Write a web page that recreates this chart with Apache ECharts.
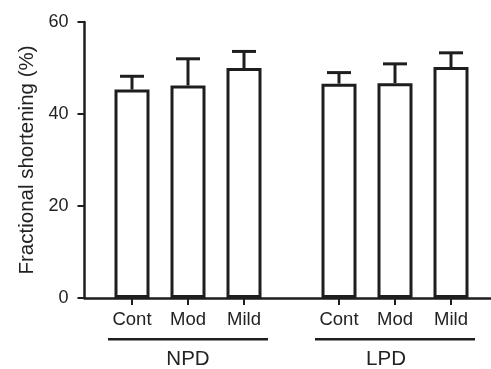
<!DOCTYPE html>
<html>
<head>
<meta charset="utf-8">
<script src="https://cdn.jsdelivr.net/npm/echarts@6/dist/echarts.min.js"></script>
<style>
  html, body { margin: 0; padding: 0; background: #fff; }
  #chart { width: 491px; height: 369px; }
</style>
</head>
<body>
<div id="chart"></div>
<script>
// groups on the x axis, one bar per level inside each group
const groups = ['NPD', 'LPD'];
const levels = ['Cont', 'Mod', 'Mild'];
// mean fractional shortening (%) per level, [NPD, LPD]
const contMean = [45.3, 46.6];
const modMean = [46.2, 46.7];
const mildMean = [50.0, 50.2];
// upper error (SD) per level, [NPD, LPD]
const contErr = [2.9, 2.4];
const modErr = [5.8, 4.2];
const mildErr = [3.6, 3.1];
const yTicks = [0, 20, 40, 60];

const means = [contMean, modMean, mildMean];
const errs = [contErr, modErr, mildErr];

const ink = '#1e1e1e';
const font = 'Liberation Sans';
const BAR_W = 35;
const BAR_GAP = 21;
const STEP = BAR_W + BAR_GAP;

const chart = echarts.init(document.getElementById('chart'));

// error bar data: [groupIndex, levelIndex, mean, err]
const errData = [];
levels.forEach((lv, li) => {
    groups.forEach((g, gi) => {
        errData.push([gi, li, means[li][gi], errs[li][gi]]);
    });
});

const barSeries = levels.map((lv, li) => ({
    name: lv,
    type: 'bar',
    data: means[li],
    barWidth: BAR_W,
    barGap: (BAR_GAP / BAR_W * 100) + '%',
    itemStyle: {color: '#fff', borderColor: ink, borderWidth: 3},
    label: {
        show: true,
        position: 'insideBottom',
        distance: 0,
        offset: [0, 31],
        formatter: '{a}',
        color: '#222',
        fontFamily: font,
        fontSize: 18.5
    },
    z: 2
}));

const groupName = {fontFamily: font, fontSize: 20.5, color: '#222', lineHeight: 22, padding: [16, 0, 0, 0]};

chart.setOption({
    animation: false,
    // the axis line runs off the right edge of the picture, so let the grid overflow
    grid: {left: 84.5, top: 22, width: 414, bottom: 71, outerBoundsMode: 'none'},
    xAxis: {
        type: 'category',
        data: groups,
        axisLine: {lineStyle: {color: ink, width: 2.5}},
        axisTick: {show: false},
        axisLabel: {
            margin: 40,
            // LPD sits a little left of its underline in the original
            formatter: (v, i) => '{line|}\n{' + (i === 1 ? 'nameL' : 'name') + '|' + v + '}',
            rich: {
                line: {width: 160, height: 2.5, backgroundColor: ink},
                name: groupName,
                nameL: Object.assign({}, groupName, {padding: [16, 18, 0, 0]})
            }
        }
    },
    yAxis: {
        type: 'value',
        min: yTicks[0],
        max: yTicks[yTicks.length - 1],
        interval: 20,
        name: 'Fractional shortening (%)',
        nameLocation: 'middle',
        nameGap: 47,
        nameTextStyle: {fontFamily: font, fontSize: 20.5, color: '#222'},
        axisLine: {show: true, lineStyle: {color: ink, width: 2.5}},
        axisTick: {show: true, length: 7, lineStyle: {color: ink, width: 2}},
        axisLabel: {margin: 16, fontFamily: font, fontSize: 18, color: '#222'},
        splitLine: {show: false}
    },
    series: barSeries.concat([{
        type: 'custom',
        data: errData,
        encode: {x: 0, y: 2},
        z: 3,
        renderItem: (params, api) => {
            const gi = api.value(0);
            const li = api.value(1);
            const mean = api.value(2);
            const err = api.value(3);
            const cx = api.coord([gi, 0])[0] + (li - 1) * STEP;
            const y0 = api.coord([gi, 0])[1];
            const yTop = api.coord([gi, mean])[1];
            const yErr = api.coord([gi, mean + err])[1];
            const st = {stroke: ink, lineWidth: 3};
            return {
                type: 'group',
                children: [
                    {type: 'line', shape: {x1: cx, y1: yTop, x2: cx, y2: yErr}, style: st},
                    {type: 'line', shape: {x1: cx - 12, y1: yErr, x2: cx + 12, y2: yErr}, style: st},
                    {type: 'line', shape: {x1: cx, y1: y0, x2: cx, y2: y0 + 7}, style: {stroke: ink, lineWidth: 2}}
                ]
            };
        }
    }])
});
</script>
</body>
</html>
